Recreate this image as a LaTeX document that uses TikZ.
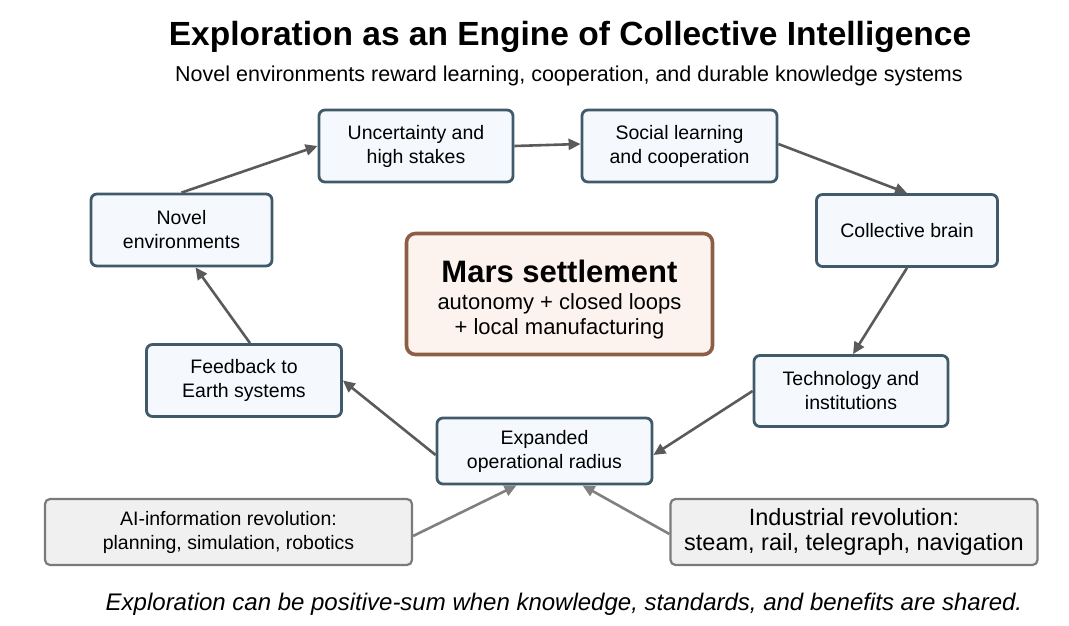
\documentclass[tikz,border=0pt]{standalone}
\usepackage{fontspec}
\setmainfont{Liberation Sans}
\usetikzlibrary{arrows.meta}
\definecolor{stepedge}{HTML}{415A69}
\definecolor{stepfill}{HTML}{F5F9FD}
\definecolor{marsedge}{HTML}{8C5E45}
\definecolor{marsfill}{HTML}{FDF3EE}
\definecolor{eraedge}{HTML}{7A7A7A}
\definecolor{erafill}{HTML}{F0F0F0}
\definecolor{flowcol}{HTML}{5A5A5A}
\definecolor{feedcol}{HTML}{808080}
\tikzset{
  stepbox/.style={draw=stepedge, fill=stepfill, line width=2.8pt, rounded corners=6pt,
    align=center, inner sep=0pt, font=\fontsize{19.5}{24}\selectfont},
  erabox/.style={draw=eraedge, fill=erafill, line width=2.2pt, rounded corners=5pt,
    align=center, inner sep=0pt, minimum width=367pt, minimum height=66pt},
  flow/.style={draw=flowcol, line width=2.6pt, -{Triangle[length=12pt,width=11pt]}},
  feed/.style={draw=feedcol, line width=2.6pt, -{Triangle[length=12pt,width=11pt]}}
}
\begin{document}
\begin{tikzpicture}[x=1pt,y=-1pt]
            \useasboundingbox (0,0) rectangle (1069,626);
            % Titel
            \node (title) at (570,37) {\fontsize{33.5}{38}\selectfont\bfseries Exploration as an Engine of Collective Intelligence};
            \node (subtitle) at (569,76) {\fontsize{21.5}{25}\selectfont Novel environments reward learning, cooperation, and durable knowledge systems};
            % Kreislauf
            \node[stepbox, minimum width=194pt, minimum height=72pt] (uncert) at (416,146) {Uncertainty and\\high stakes};
            \node[stepbox, minimum width=195pt, minimum height=72pt] (social) at (679.5,146) {Social learning\\and cooperation};
            \node[stepbox, minimum width=181pt, minimum height=72pt] (novel) at (181.5,230) {Novel\\environments};
            \node[stepbox, minimum width=181pt, minimum height=72pt] (brain) at (907,230.5) {Collective brain};
            \node[stepbox, minimum width=195pt, minimum height=72pt] (feedback) at (244,380.5) {Feedback to\\Earth systems};
            \node[stepbox, minimum width=194pt, minimum height=71pt] (tech) at (851,391) {Technology and\\institutions};
            \node[stepbox, minimum width=215pt, minimum height=66pt] (radius) at (544.5,451) {Expanded\\operational radius};
            % Mitte
            \node[draw=marsedge, fill=marsfill, line width=3.6pt, rounded corners=9pt, align=center,
              inner sep=0pt, minimum width=306pt, minimum height=121pt,
              font=\fontsize{22}{24.5}\selectfont] (mars) at (559.5,294)
              {\rule{0pt}{33pt}{\fontsize{31}{34}\selectfont\bfseries Mars settlement}\\[3pt]
               autonomy + closed loops\\+ local manufacturing};
            % Revolutionen
            \node[erabox, font=\fontsize{19.5}{24}\selectfont] (ai) at (228.5,532) {AI-information revolution:\\planning, simulation, robotics};
            \node[erabox, font=\fontsize{23.5}{24.5}\selectfont] (industry) at (854,532) {Industrial revolution:\\steam, rail, telegraph, navigation};
            % Pfeile
            \draw[flow] (novel.north) -- (uncert.west);
            \draw[flow] (uncert.east) -- ([yshift=2pt]social.west);
            \draw[flow] ([yshift=2pt]social.east) -- (brain.north);
            \draw[flow] (brain.south) -- ([xshift=2pt]tech.north);
            \draw[flow] (tech.west) -- ([yshift=-4pt]radius.east);
            \draw[flow] ([yshift=-4pt]radius.west) -- (feedback.east);
            \draw[flow] ([xshift=6pt]feedback.north) -- ([xshift=14pt]novel.south);
            \draw[feed] ([yshift=-4pt]ai.east) -- ([xshift=-28pt]radius.south);
            \draw[feed] ([yshift=-2pt]industry.west) -- ([xshift=38pt]radius.south);
            % Fusszeile
            \node (footer) at (564,604) {\fontsize{24}{28}\selectfont\itshape Exploration can be positive-sum when knowledge, standards, and benefits are shared.};
\end{tikzpicture}
\end{document}
